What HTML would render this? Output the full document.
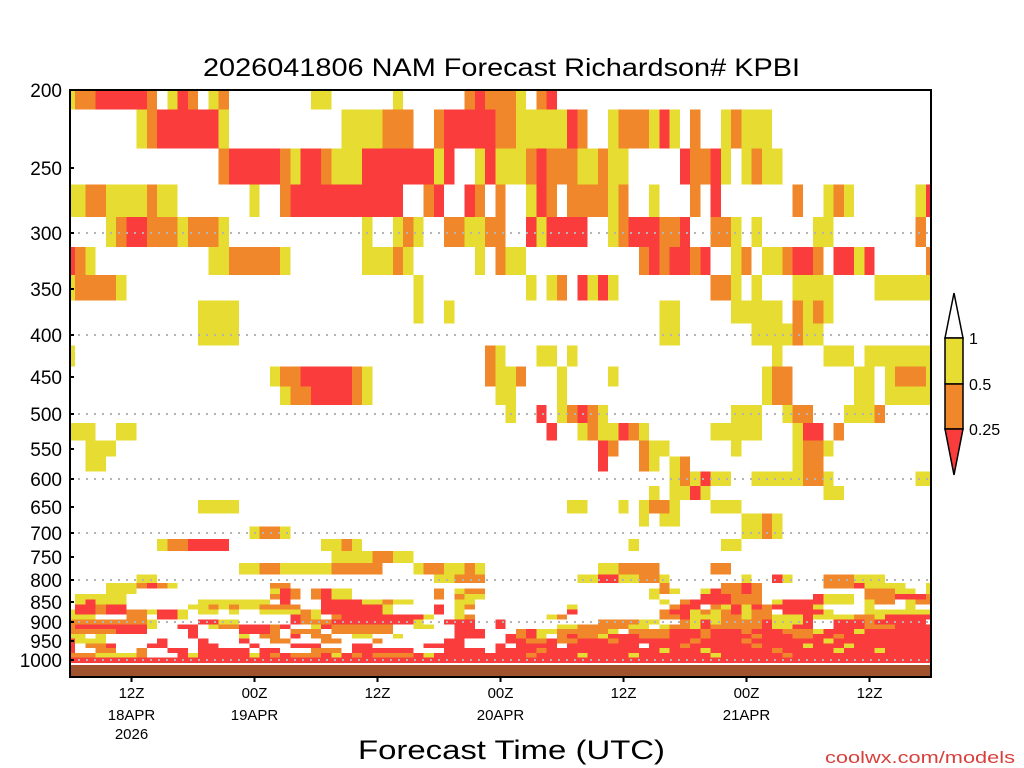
<!DOCTYPE html>
<html><head><meta charset="utf-8"><style>
html,body{margin:0;padding:0;background:#fff;}
svg{display:block;font-family:"Liberation Sans",sans-serif;}
</style></head><body>
<svg id="chart" width="1024" height="768" viewBox="0 0 1024 768" xmlns="http://www.w3.org/2000/svg">
<rect x="0" y="0" width="1024" height="768" fill="#fff"/>
<text x="203" y="76" font-size="25" textLength="597" lengthAdjust="spacingAndGlyphs" fill="#000">2026041806 NAM Forecast Richardson# KPBI</text>
<g id="cells" shape-rendering="crispEdges"></g>
<rect x="70" y="665" width="861" height="12" fill="#a0522d"/>
<g id="grid"></g>
<rect x="70" y="90" width="861" height="587" fill="none" stroke="#000" stroke-width="2"/>
<g id="yaxis"></g>
<g id="xaxis"></g>
<text x="358" y="759" font-size="27" textLength="307" lengthAdjust="spacingAndGlyphs" fill="#000">Forecast Time (UTC)</text>
<text x="825" y="763" font-size="17" textLength="190" lengthAdjust="spacingAndGlyphs" fill="#d8403c">coolwx.com/models</text>
<g stroke="#000" stroke-width="1.5">
<polygon points="945,338 954,293 963,338" fill="#fff"/>
<rect x="945" y="338" width="18" height="46" fill="#e6dc32"/>
<rect x="945" y="384" width="18" height="45" fill="#f0872a"/>
<polygon points="945,429 963,429 954,475" fill="#fa3c3c"/>
</g>
<text x="969" y="344" font-size="16" fill="#000">1</text>
<text x="969" y="390" font-size="16" fill="#000">0.5</text>
<text x="969" y="435" font-size="16" fill="#000">0.25</text>
</svg>
<script>
const NS = "http://www.w3.org/2000/svg";
const yTickLabels = [200,250,300,350,400,450,500,550,600,650,700,750,800,850,900,950,1000];
const yTickPix = [90,168,233,289,335,377,414,449,479,507,533,557,580,602,622,641,660];
const gridLevels = [300,400,500,600,700,800,900,1000];
const xTickHours = [6,18,30,42,54,66,78];
const xTickTimes = ["12Z","00Z","12Z","00Z","12Z","00Z","12Z"];
const xTickDates = ["18APR","19APR","","20APR","","21APR",""];
const xTickYears = ["2026","","","","","",""];
const nHours = 84;
const levels = [200,225,250,275,300,325,350,375,400,425,450,475,500,525,550,575,600,625,650,675,700,725,750,775,
  800,812.5,825,837.5,850,862.5,875,887.5,900,912.5,925,937.5,950,962.5,975,987.5,1000];
const cellSpecs = [
"0:1 1-2:2 3-7:3 8:2 10:1 11:3 12:2 14:1 15:2 24-25:1 32:1 39:2 40:3 41-43:2 44:1 46:2 47:3",
"7:1 8:2 9-14:3 15:1 27-30:1 31-33:2 36:2 37-41:3 42-43:2 44-47:1 48:1 49:3 50:2 53:1 54-55:2 56:2 57:1 58:3 59:1 61:2 64:1 65:2 66-68:1",
"15:2 16-20:3 21:2 22:1 23-24:3 25:2 26-28:1 29-35:3 36:1 37:3 40:1 41:3 42-44:1 45:2 46:3 47-49:2 50-51:1 52:2 53-54:1 60:3 61-62:2 63:3 64:1 66:1 67:2 68-69:1",
"0-1:1 2-3:2 4-10:1 8:2 18:1 21:2 22-32:3 35:2 36:3 39:3 40:2 42:2 45:1 46:3 47:2 49:2 50-52:2 53:1 54:2 57:1 61:2 63:3 71:2 74:1 75:2 76:1 83:1 84:3",
"4:1 5:2 6-7:3 8-10:2 11:1 12-14:2 15:1 29:1 32:1 33:2 34:1 37-38:2 39-40:1 41-42:2 45:3 46:1 47-50:3 53:1 54:2 55-57:3 58-59:2 60:3 63-64:2 65:1 67:1 73-74:1 83:2",
"0:3 1:2 2:1 14-15:1 16-20:2 21:1 29-31:1 32:2 33:1 40:1 42:2 43-44:1 56:2 57:3 58:2 59-60:3 61:2 62:3 65:1 66:2 68-69:1 70:2 71-72:3 73:2 75-76:3 77:1 78:3 84:2",
"0:1 1-4:2 5:1 34:1 45:1 47:1 48:2 50:3 51:1 52:3 53:1 63-64:2 65:1 67:1 71-74:1 79-84:1",
"13-16:1 34:1 37:1 58-59:1 65-69:1 71:2 72:1 73:2 74:1",
"13-16:1 58-59:1 67-70:1 71:2 72-73:1",
"0:1 41:2 42:1 46-47:1 49:1 69:1 74-76:1 78-84:1",
"20:1 21-22:2 23-27:3 28:2 29:1 41:2 42-43:1 44:2 48:1 53:1 68:1 69-70:2 77-78:1 80:1 81-83:2 84:1",
"21:1 22-23:2 24-27:3 28:2 29:1 42-43:1 48:1 68:1 69-70:2 77-78:1 80:1 81-83:1 84:1",
"43:1 46:3 48:1 49:2 50:3 51:2 52:1 65-67:1 70:1 71-72:2 76-77:1 78:1 79:2",
"0-2:1 5-6:1 47:3 50:1 51:2 52-53:1 54:3 55:2 56:1 63-67:1 71:1 72-73:3 75:2",
"2-4:1 52:3 53:2 56:2 57-58:1 65:1 71:1 72-73:2 74:1",
"2-3:1 52:3 56:2 57:1 59:1 60:2 71:1 72-73:2",
"59:1 60:2 61:1 62:3 63-64:1 67-71:1 72-73:2 74:1 83-84:1",
"57:1 59-60:1 61:3 62:1 74-75:1",
"13-16:1 49-50:1 54:1 56:1 57-58:2 59:1 63-65:1",
"56:1 58-59:1 66-67:1 68:2 69:1",
"18:1 19-20:2 21:1 66-67:1 68:2 69:1",
"9:1 10-11:2 12-15:3 25:1 26:1 27:2 28:1 55:1 64-65:1",
"26-29:1 30-31:2 32-33:1",
"17-18:1 19-20:2 21-25:1 26-30:2 34:1 35-36:2 37-38:1 39:2 40:1 52-53:1 54-57:2 63-64:2",
"7-8:1 36-37:1 38-40:2 50-51:1 52-53:3 54-55:1 56-57:2 58:1 66:1 69:3 70:1 74-76:2 77-79:1",
"4-6:1 7:2 8:3 9:2 10:1 20-21:2 58:2 64-65:2 66:3 67:2 74-76:2 77:3 78-81:1 84:1",
"4-6:1 20:1 21:3 22:2 24:2 25:3 26-27:1 36:2 38:1 39-40:2 57:1 58:2 59:1 62:1 63:3 64-65:2 66:3 67:2 78-80:2 81-82:1 84:1",
"1-2:1 3-5:1 20:2 21:3 22:2 24:2 25:3 26-27:1 36:2 38:2 39-40:1 57:1 62-64:3 65-66:2 67:2 73:3 74-76:1 78-80:2 81-83:3 84:2",
"1:1 2:3 3-5:1 13-14:1 15-19:1 21:3 25-28:3 29-30:1 31:2 32-33:1 38-39:1 58:1 60:2 61-64:3 65-67:2 69:1 70-73:3 74-76:1 78:1 79-80:2 82:1 83-84:2",
"1-2:3 3:2 4-5:3 12-13:1 14:2 15:1 16:2 17-18:1 19-22:2 25-30:3 31:1 36:3 38:1 39:2 49:1 59:2 60-61:3 63:2 64:1 65:3 66:1 67:3 68:2 69-72:3 73:1 78:1 82:1",
"0:1 1-2:3 3:2 4-5:3 6-7:2 8:1 9-10:3 11:1 13-14:1 16:1 19-22:1 23:2 24:1 25-30:3 31:1 36:3 38:1 49:3 58:2 59-60:3 61:1 62:2 63:1 64:2 65:3 66:1 67-68:2 70-73:3 74:1 78-84:1",
"0-2:1 6-7:2 9-10:3 11:1 22:3 23:2 24:1 26:2 27-34:3 35:1 38:1 39:2 47:1 48:2 58-59:2 60:3 61-63:1 64-65:2 66:1 67-68:2 69-71:1 72:3 73:1 74-84:1 77-78:2 80-84:3",
"0-7:2 8:1 13-14:3 15-16:1 22:3 23-25:2 26-33:3 34:1 37-39:3 42:3 52-55:2 56-57:1 60:2 61:1 62:3 63:1 64-67:2 68:3 69-71:1 72:3 75-83:3 78:2",
"0:2 1-7:3 8:1 11-12:3 14:1 15-16:2 17-19:3 20:2 21:3 24:1 25:3 26-31:2 34-35:1 38-39:3 42:3 48-49:1 50-54:2 55-56:1 58:1 59-60:2 61:1 62:3 63:2 64-67:2 68:3 69-70:1 71-72:3 75-77:3 78-80:2 81-84:3",
"0-4:2 5-7:3 12:3 17-19:3 20:2 22-24:2 26-31:2 38-40:3 44:2 45:3 46-47:1 48-52:2 53:1 55-58:2 59-61:3 62:2 63-65:3 66:2 67-69:3 70-72:2 73:1 74-76:3 77:1 78-84:3",
"0-1:1 3:1 12:3 17:1 19-20:2 22:3 24-25:2 28-29:1 32:1 38-40:3 43:3 44:2 45:3 46:1 48:2 49:3 50-51:2 52:1 53-55:3 56-58:2 59-61:3 62:2 63-66:3 67:2 68-70:3 71-72:2 73-74:3 75:2 76-84:3",
"0:3 1-3:1 9:3 13:3 17:3 20-21:2 25-26:2 30:2 37-38:3 43-44:3 45-46:2 47:3 48-49:2 50-52:3 53:2 54-84:3 61:2 66:2 74:1",
"0:3 2-3:2 4:3 8-9:3 13-14:3 18:3 22-24:3 28-29:3 35-38:3 42:3 44-47:3 49-55:3 57-84:3 60:2 67:2 72:1 76:1",
"0:3 3-4:2 7:2 10-11:3 13-17:3 19-20:3 24-26:2 28-33:3 37-40:3 42-84:3 46:2 58:1 62:1 69:2 75:1 79:1",
"0-2:2 3-6:1 7:2 11-84:3 12:1 18:1 20:2 22-24:2 26:1 28:2 30-33:2 35:1 45:2 50:1 55:1 63:1 70:2",
"0-84:3"
];
const catColors = [null,"#e6dc32","#f0872a","#fa3c3c"];

function yOf(p){
  if(p<=yTickLabels[0]) return yTickPix[0];
  for(let i=0;i<yTickLabels.length-1;i++){
    const a=yTickLabels[i], b=yTickLabels[i+1];
    if(p>=a && p<=b) return yTickPix[i]+(p-a)/(b-a)*(yTickPix[i+1]-yTickPix[i]);
  }
  return yTickPix[yTickPix.length-1];
}
const X0=70, X1=931, PW=(X1-X0)/nHours;
function xOf(h){ return X0+h*PW; }
function parseSpec(s){
  const arr=new Array(nHours+1).fill(0);
  s.trim().split(/\s+/).forEach(tok=>{
    if(!tok) return;
    const [r,v]=tok.split(":");
    const pr=r.split("-").map(Number);
    const a=pr[0], b=pr.length>1?pr[1]:pr[0];
    for(let h=a;h<=b;h++) arr[h]=Number(v);
  });
  return arr;
}
function mk(tag, attrs, parent){
  const e=document.createElementNS(NS,tag);
  for(const k in attrs) e.setAttribute(k,attrs[k]);
  parent.appendChild(e); return e;
}
const cellsG=document.getElementById("cells");
levels.forEach((p,i)=>{
  const yc=yOf(p);
  const top = i===0 ? 90 : (yOf(levels[i-1])+yc)/2;
  const bot = i===levels.length-1 ? 663 : (yc+yOf(levels[i+1]))/2;
  const vals=parseSpec(cellSpecs[i]);
  let h=0;
  while(h<=nHours){
    const v=vals[h];
    let e=h; while(e+1<=nHours && vals[e+1]===v) e++;
    if(v>0){
      const xa=Math.max(X0,xOf(h-0.5)), xb=Math.min(X1,xOf(e+0.5));
      const r=mk("rect",{x:xa.toFixed(2),y:top.toFixed(2),width:(xb-xa).toFixed(2),height:(bot-top).toFixed(2),fill:catColors[v]},cellsG);
      
      
    }
    h=e+1;
  }
});
const gridG=document.getElementById("grid");
gridLevels.forEach(p=>{
  const y=yOf(p);
  const l=mk("line",{x1:X0,x2:X1,y1:y,y2:y,stroke:"#b4b4b4","stroke-width":2,"stroke-dasharray":"2 6"},gridG);
  
  
});
const yG=document.getElementById("yaxis");
yTickLabels.forEach(p=>{
  const y=yOf(p);
  const t=mk("line",{x1:X0,x2:X0+4,y1:y,y2:y,stroke:"#000","stroke-width":2},yG);
  
  
  const tx=mk("text",{x:62,y:y+7,"font-size":19,"text-anchor":"end",fill:"#000"},yG);
  tx.textContent=String(p);
  
  
});
const xG=document.getElementById("xaxis");
xTickHours.forEach((h,i)=>{
  const x=xOf(h);
  const t=mk("line",{x1:x,x2:x,y1:677,y2:682,stroke:"#000","stroke-width":2},xG);
  
  
  const a=mk("text",{x:x,y:698,"font-size":15,"text-anchor":"middle",fill:"#000"},xG);
  a.textContent=xTickTimes[i];
  
  
  if(xTickDates[i]){
    const b=mk("text",{x:x,y:720,"font-size":15,"text-anchor":"middle",fill:"#000"},xG);
    b.textContent=xTickDates[i];
    
    
  }
  if(xTickYears[i]){
    const c=mk("text",{x:x,y:739,"font-size":15,"text-anchor":"middle",fill:"#000"},xG);
    c.textContent=xTickYears[i];
    
    
  }
});
</script>
</body></html>
